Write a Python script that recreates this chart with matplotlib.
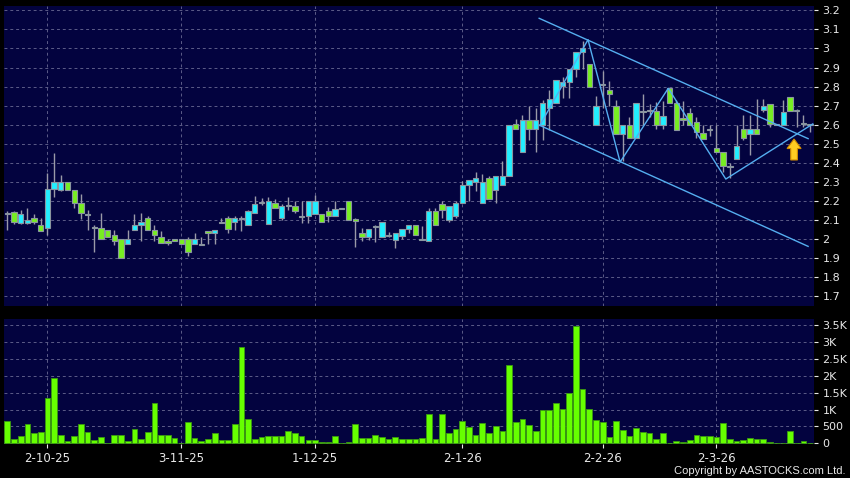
import numpy as np
import matplotlib.pyplot as plt
from matplotlib.patches import FancyArrow

# daily candles, one entry per trading day (oldest first)
opens = [2.135, 2.14, 2.085, 2.085, 2.11, 2.075, 2.06, 2.265, 2.255, 2.30,
         2.255, 2.19, 2.13, 2.06, 2.06, 2.05, 2.02, 2.0, 1.975, 2.05,
         2.075, 2.11, 2.05, 2.01, 1.985, 1.995, 2.0, 2.0, 1.975, 1.97,
         2.037, 2.03, 2.085, 2.11, 2.09, 2.11, 2.075, 2.135, 2.19, 2.08,
         2.19, 2.11, 2.175, 2.175, 2.12, 2.12, 2.13, 2.13, 2.15, 2.12,
         2.16, 2.2, 2.1, 2.03, 2.01, 2.067, 2.01, 2.017, 1.995, 2.015,
         2.053, 2.075, 2.0, 1.99, 2.15, 2.185, 2.1, 2.12, 2.19, 2.285,
         2.30, 2.19, 2.32, 2.255, 2.285, 2.33, 2.605, 2.455, 2.625, 2.58,
         2.60, 2.69, 2.715, 2.805, 2.825, 2.89, 2.98, 2.92, 2.60, 2.81,
         2.78, 2.70, 2.55, 2.60, 2.53, 2.67, 2.675, 2.67, 2.60, 2.79,
         2.715, 2.63, 2.66, 2.615, 2.555, 2.575, 2.48, 2.455, 2.38, 2.42,
         2.575, 2.55, 2.575, 2.675, 2.71, 2.60, 2.60, 2.745, 2.675, 2.605,
         2.60]
highs = [2.15, 2.145, 2.155, 2.165, 2.13, 2.11, 2.345, 2.45, 2.335, 2.30,
         2.255, 2.235, 2.155, 2.075, 2.135, 2.05, 2.05, 2.0, 2.05, 2.13,
         2.135, 2.12, 2.075, 2.04, 2.0, 1.995, 2.0, 2.01, 2.03, 2.01,
         2.037, 2.05, 2.11, 2.12, 2.12, 2.12, 2.155, 2.225, 2.215, 2.22,
         2.21, 2.185, 2.22, 2.20, 2.2, 2.2, 2.233, 2.13, 2.17, 2.2,
         2.16, 2.2, 2.11, 2.06, 2.053, 2.072, 2.09, 2.035, 2.03, 2.053,
         2.075, 2.075, 2.07, 2.165, 2.165, 2.2, 2.175, 2.2, 2.305, 2.31,
         2.35, 2.34, 2.33, 2.33, 2.41, 2.60, 2.63, 2.65, 2.70, 2.69,
         2.73, 2.78, 2.835, 2.85, 2.89, 2.98, 3.04, 2.92, 2.75, 2.88,
         2.83, 2.73, 2.60, 2.64, 2.715, 2.76, 2.71, 2.72, 2.725, 2.79,
         2.73, 2.725, 2.69, 2.64, 2.60, 2.60, 2.60, 2.455, 2.40, 2.60,
         2.65, 2.65, 2.735, 2.735, 2.71, 2.60, 2.73, 2.745, 2.685, 2.65,
         2.60]
lows = [2.05, 2.08, 2.08, 2.08, 2.08, 2.04, 2.02, 2.22, 2.25, 2.255,
        2.165, 2.105, 2.05, 1.93, 2.0, 2.01, 1.97, 1.90, 1.975, 2.05,
        1.99, 2.05, 1.99, 1.98, 1.97, 1.995, 1.975, 1.91, 1.975, 1.97,
        1.975, 1.975, 2.085, 2.03, 2.05, 2.04, 2.075, 2.135, 2.18, 2.08,
        2.165, 2.10, 2.155, 2.135, 2.085, 2.085, 2.13, 2.09, 2.09, 2.12,
        2.16, 2.1, 1.96, 1.99, 1.995, 1.985, 2.01, 2.01, 1.953, 2.0,
        2.03, 2.02, 1.995, 1.99, 2.075, 2.11, 2.09, 2.11, 2.19, 2.2,
        2.25, 2.19, 2.21, 2.19, 2.285, 2.33, 2.58, 2.455, 2.52, 2.455,
        2.52, 2.57, 2.715, 2.74, 2.74, 2.85, 2.89, 2.80, 2.60, 2.69,
        2.70, 2.55, 2.41, 2.53, 2.53, 2.60, 2.64, 2.58, 2.575, 2.715,
        2.57, 2.60, 2.60, 2.53, 2.525, 2.54, 2.455, 2.35, 2.32, 2.42,
        2.52, 2.44, 2.55, 2.665, 2.59, 2.60, 2.60, 2.67, 2.59, 2.59,
        2.56]
closes = [2.14, 2.09, 2.13, 2.10, 2.09, 2.04, 2.265, 2.30, 2.30, 2.255,
          2.19, 2.135, 2.13, 2.06, 2.0, 2.01, 1.99, 1.90, 2.0, 2.075,
          2.09, 2.05, 2.02, 1.98, 1.985, 1.995, 1.975, 1.93, 2.0, 1.97,
          2.037, 2.05, 2.085, 2.053, 2.11, 2.11, 2.145, 2.185, 2.19, 2.20,
          2.165, 2.175, 2.175, 2.15, 2.12, 2.2, 2.2, 2.09, 2.12, 2.16,
          2.16, 2.1, 2.1, 2.01, 2.053, 2.067, 2.09, 2.017, 2.03, 2.053,
          2.075, 2.02, 2.0, 2.145, 2.075, 2.155, 2.175, 2.19, 2.285, 2.31,
          2.32, 2.30, 2.21, 2.33, 2.33, 2.60, 2.58, 2.625, 2.58, 2.625,
          2.715, 2.735, 2.835, 2.825, 2.89, 2.98, 3.0, 2.80, 2.70, 2.81,
          2.76, 2.55, 2.60, 2.53, 2.715, 2.67, 2.675, 2.60, 2.645, 2.715,
          2.57, 2.63, 2.60, 2.56, 2.525, 2.575, 2.455, 2.385, 2.38, 2.49,
          2.53, 2.575, 2.55, 2.70, 2.605, 2.60, 2.665, 2.67, 2.675, 2.605,
          2.60]
volumes = [667, 137, 225, 569, 314, 324, 1343, 1931, 235, 69,
           216, 569, 333, 98, 196, 0, 235, 255, 78, 431,
           137, 333, 1206, 245, 235, 157, 0, 618, 157, 69,
           137, 294, 88, 88, 559, 2843, 716, 127, 186, 225,
           225, 225, 353, 304, 216, 108, 108, 29, 29, 216,
           0, 39, 569, 157, 157, 235, 176, 118, 186, 137,
           118, 137, 147, 882, 127, 863, 304, 422, 676, 471,
           245, 598, 294, 510, 373, 2333, 637, 735, 549, 353,
           990, 1000, 1206, 1029, 1500, 3471, 1598, 1010, 686, 637,
           186, 667, 392, 206, 451, 333, 314, 127, 304, 0,
           59, 39, 98, 255, 216, 216, 196, 588, 127, 78,
           98, 157, 137, 137, 29, 0, 20, 373, 20, 59,
           20]

# date labels and the bar they sit under
tick_idx = [6, 26, 46, 68, 89, 106]
tick_labels = ['2-10-25', '3-11-25', '1-12-25', '2-1-26', '2-2-26', '2-3-26']

# hand drawn trend lines (bar index, price)
chan_idx = [79.5, 119.7]
chan_upper = [3.158, 2.527]
chan_lower = [2.598, 1.962]
zz_idx = [79.6, 86.8, 91.6, 98.8, 107.4, 120.4]
zz_price = [2.596, 3.046, 2.404, 2.791, 2.315, 2.604]

# the yellow marker arrow
arrow_idx = 117.6
arrow_tail = 2.415
arrow_tip = 2.525

x = np.arange(len(opens))
o = np.array(opens)
h = np.array(highs)
l = np.array(lows)
c = np.array(closes)

navy = '#03033f'
up_col = '#22eeff'
down_col = '#77ee22'
grid_col = '#5c5c88'
txt_col = '#e8e8e8'

fig = plt.figure(figsize=(8.5, 4.78), dpi=100)
fig.patch.set_facecolor('black')

W, H = 850.0, 478.0
ax = fig.add_axes([4 / W, 1 - 306 / H, 810 / W, 300 / H])
axv = fig.add_axes([4 / W, 1 - 444 / H, 810 / W, 125 / H])

for a in (ax, axv):
    a.set_facecolor(navy)
    for s in a.spines.values():
        s.set_visible(False)
    a.set_xlim(-0.49, 120.58)
    a.grid(True, color=grid_col, linestyle=(0, (3, 3)), linewidth=0.7)
    a.set_axisbelow(True)
    a.yaxis.tick_right()
    a.tick_params(axis='y', colors=txt_col, labelsize=8, length=3,
                  width=0.8, pad=3)
    a.set_xticks(tick_idx)

# price panel
ax.set_ylim(1.6492, 3.2226)
ax.set_yticks(np.round(np.arange(1.7, 3.25, 0.1), 1))
ax.set_yticklabels([f'{v:g}' for v in np.round(np.arange(1.7, 3.25, 0.1), 1)])
ax.tick_params(axis='x', length=0, labelbottom=False)

ax.vlines(x, l, h, color='#9a9aa8', linewidth=1.0, zorder=2)
body_lo = np.minimum(o, c)
body_h = np.maximum(np.abs(c - o), 0.006)
cols = [up_col if cc > oo else down_col for oo, cc in zip(o, c)]
ax.bar(x, body_h, bottom=body_lo - np.where(np.abs(c - o) < 0.006, 0.003, 0),
       width=0.8, color=cols, edgecolor='#8a95a0', linewidth=0.8, zorder=3)

ax.plot(chan_idx, chan_upper, color='#55aef0', linewidth=1.0, zorder=4)
ax.plot(chan_idx, chan_lower, color='#55aef0', linewidth=1.0, zorder=4)
ax.plot(zz_idx, zz_price, color='#55aef0', linewidth=1.0, zorder=4)

ax.add_patch(FancyArrow(arrow_idx, arrow_tail, 0, arrow_tip - arrow_tail,
                        width=1.0, head_width=2.1, head_length=0.05,
                        length_includes_head=True, facecolor='#ffcc22',
                        edgecolor='#d08a00', linewidth=0.8, zorder=5))

# volume panel
vmax_ticks = [0, 500, 1000, 1500, 2000, 2500, 3000, 3500]
axv.set_ylim(-21, 3687)
axv.set_yticks(vmax_ticks)
axv.set_yticklabels(['0', '500', '1K', '1.5K', '2K', '2.5K', '3K', '3.5K'])
axv.bar(x, volumes, width=0.85, color='#66ff00', edgecolor='#3a9a10',
        linewidth=0.6, zorder=3)
axv.set_xticklabels(tick_labels)
axv.tick_params(axis='x', colors=txt_col, labelsize=8.5, length=3,
                width=0.8, pad=3)

fig.text(846 / W, 1 - 471 / H, 'Copyright by AASTOCKS.com Ltd.',
         color=txt_col, fontsize=8, family='Liberation Sans',
         ha='right', va='center')

fig.savefig('out.png', dpi=100, facecolor=fig.get_facecolor())
